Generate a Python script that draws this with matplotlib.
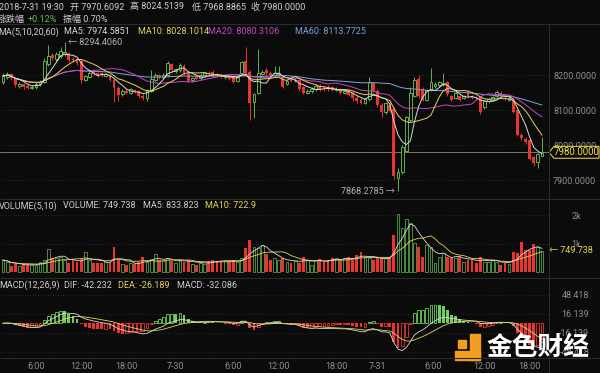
import numpy as np
import pandas as pd
import matplotlib
matplotlib.use('Agg')
import matplotlib.pyplot as plt
from matplotlib.patches import Polygon, Rectangle
from matplotlib.transforms import blended_transform_factory

plt.rcParams['font.family'] = ['Roboto', 'Noto Sans CJK SC', 'DejaVu Sans']

# 30 min candles, 7-29 ~02:00 -> 7-31 19:30
opens = [8180, 8196, 8204, 8190, 8170, 8176, 8170, 8164, 8166, 8174,
         8182, 8232, 8258, 8248, 8256, 8262, 8264, 8248, 8246, 8240,
         8188, 8196, 8212, 8206, 8206, 8198, 8200, 8188, 8165, 8146,
         8156, 8150, 8158, 8155, 8142, 8134, 8156, 8188, 8200, 8194,
         8200, 8232, 8212, 8214, 8228, 8206, 8186, 8194, 8192, 8200,
         8208, 8210, 8204, 8200, 8194, 8196, 8192, 8184, 8208, 8240,
         8210, 8125, 8150, 8204, 8216, 8208, 8200, 8204, 8196, 8176,
         8190, 8186, 8186, 8166, 8150, 8154, 8160, 8170, 8166, 8168,
         8166, 8158, 8160, 8150, 8158, 8150, 8136, 8130, 8122, 8132,
         8178, 8156, 8116, 8096, 8116, 8104, 7908, 7925, 7985, 8072,
         8142, 8190, 8160, 8130, 8158, 8170, 8172, 8174, 8180, 8140,
         8136, 8140, 8136, 8152, 8140, 8136, 8134, 8110, 8126, 8130,
         8140, 8150, 8136, 8130, 8130, 8100, 8030, 8018, 8015, 7966,
         7952, 7970.6092]
highs = [8206, 8210, 8208, 8196, 8181, 8179, 8174, 8172, 8180, 8186,
         8250, 8286, 8263, 8268, 8280, 8294.406, 8268, 8253, 8250, 8248,
         8202, 8212, 8218, 8210, 8210, 8208, 8204, 8192, 8170, 8162,
         8160, 8164, 8162, 8158, 8146, 8162, 8215, 8206, 8205, 8206,
         8240, 8236, 8222, 8234, 8232, 8210, 8196, 8198, 8206, 8210,
         8212, 8214, 8208, 8204, 8202, 8200, 8196, 8198, 8242, 8282,
         8214, 8150, 8276, 8214, 8220, 8212, 8228, 8226, 8200, 8188,
         8194, 8192, 8190, 8170, 8160, 8166, 8174, 8174, 8170, 8172,
         8170, 8166, 8164, 8160, 8162, 8152, 8140, 8134, 8136, 8195,
         8182, 8160, 8120, 8124, 8124, 8110, 7935, 8000, 8085, 8168,
         8194, 8200, 8166, 8162, 8222, 8180, 8184, 8208, 8184, 8144,
         8154, 8144, 8144, 8158, 8144, 8140, 8138, 8130, 8136, 8142,
         8158, 8154, 8140, 8140, 8134, 8104, 8036, 8024, 8020, 7970,
         7978, 8024.5139]
lows = [8174, 8190, 8186, 8166, 8164, 8162, 8160, 8160, 8162, 8170,
        8178, 8226, 8244, 8242, 8250, 8255, 8238, 8238, 8230, 8178,
        8184, 8192, 8200, 8196, 8196, 8195, 8184, 8125, 8128, 8140,
        8146, 8146, 8150, 8136, 8130, 8126, 8152, 8184, 8190, 8190,
        8196, 8210, 8208, 8210, 8202, 8180, 8182, 8186, 8188, 8196,
        8200, 8196, 8194, 8192, 8190, 8186, 8178, 8180, 8204, 8200,
        8072, 8078, 8146, 8200, 8200, 8196, 8196, 8200, 8164, 8172,
        8180, 8182, 8156, 8146, 8146, 8150, 8156, 8156, 8156, 8156,
        8154, 8154, 8146, 8146, 8140, 8126, 8120, 8118, 8118, 8128,
        8152, 8110, 8080, 8090, 8094, 7905, 7868.2785, 7918, 7980, 8066,
        8138, 8136, 8126, 8126, 8154, 8164, 8168, 8170, 8142, 8126,
        8132, 8126, 8132, 8136, 8132, 8130, 8090, 8104, 8122, 8126,
        8136, 8136, 8130, 8126, 8092, 8026, 8014, 8004, 7958, 7940,
        7935, 7968.8865]
closes = [8198, 8203, 8192, 8172, 8176, 8168, 8165, 8168, 8176, 8181,
          8240, 8256, 8249, 8262, 8270, 8267, 8244, 8243, 8236, 8186,
          8198, 8208, 8204, 8200, 8200, 8204, 8188, 8165, 8145, 8156,
          8150, 8160, 8154, 8140, 8136, 8158, 8190, 8200, 8194, 8202,
          8236, 8214, 8218, 8230, 8206, 8183, 8192, 8190, 8202, 8206,
          8204, 8200, 8198, 8196, 8198, 8190, 8182, 8196, 8238, 8206,
          8120, 8148, 8206, 8210, 8206, 8200, 8206, 8208, 8168, 8184,
          8184, 8188, 8160, 8150, 8156, 8162, 8170, 8160, 8160, 8160,
          8158, 8162, 8150, 8156, 8144, 8134, 8126, 8122, 8132, 8180,
          8156, 8116, 8094, 8122, 8098, 7912, 7925, 7995, 8080, 8150,
          8188, 8140, 8130, 8158, 8180, 8175, 8180, 8178, 8146, 8130,
          8150, 8130, 8140, 8140, 8136, 8134, 8096, 8128, 8132, 8138,
          8152, 8140, 8134, 8136, 8096, 8030, 8020, 8010, 7962, 7950,
          7975, 7980.0]
volumes = [424, 365, 212, 271, 212, 283, 271, 247, 247, 365,
           424, 830, 482, 506, 541, 424, 306, 424, 341, 447,
           718, 424, 330, 330, 306, 365, 365, 871, 424, 271,
           247, 306, 283, 365, 518, 365, 450, 620, 420, 380,
           480, 380, 330, 420, 370, 420, 300, 260, 330, 300,
           400, 420, 400, 400, 380, 400, 420, 360, 480, 840,
           1130, 900, 860, 950, 620, 430, 480, 420, 480, 360,
           320, 400, 330, 541, 424, 247, 424, 459, 365, 424,
           482, 482, 424, 506, 541, 424, 600, 718, 506, 482,
           424, 482, 506, 482, 541, 1306, 2036, 1541, 1871, 1718,
           1012, 894, 541, 953, 894, 306, 541, 659, 541, 482,
           506, 541, 365, 424, 424, 306, 541, 365, 365, 424,
           365, 247, 320, 280, 717, 680, 1048, 776, 790, 988,
           870, 749.738]

tick_idx = [8, 19, 30, 42, 56, 67, 81, 91, 104.5, 117, 128]
tick_labels = ['6:00', '12:00', '18:00', '7-30', '6:00', '12:00',
               '18:00', '7-31', '6:00', '12:00', '18:00']
price_ticks = [8200, 8100, 8000, 7900]
vol_ticks = [2000, 1000]
vol_tick_labels = ['2k', '1k']
macd_ticks = [48.418, 16.139, -16.139, -48.418]

BG = '#0b0b0b'
RED = '#e8352f'
GREEN = '#63b04f'
VGREEN = '#4f8a3f'
MGREEN = '#6ccf5a'
GRID = '#303030'
SEP = '#2a2a2a'
TXT = '#cfcfcf'
AXTXT = '#8f8f8f'
WHITE_L = '#d9d9d9'
YEL = '#e6d35a'
MAG = '#c247c4'
BLUE = '#7ea3d6'

W, H = 600, 373


def box(l, t, r, b):
    return [l / W, 1 - b / H, (r - l) / W, (b - t) / H]


o = np.array(opens, float)
h = np.array(highs, float)
lo = np.array(lows, float)
c = np.array(closes, float)
v = np.array(volumes, float)
n = len(c)
x = np.arange(n)
up = c >= o

fig = plt.figure(figsize=(6, 3.73), dpi=100, facecolor=BG)
ax_p = fig.add_axes(box(0, 24, 549, 199))
ax_v = fig.add_axes(box(0, 199, 549, 278))
ax_m = fig.add_axes(box(0, 278, 549, 358))

for ax in (ax_p, ax_v, ax_m):
    ax.set_facecolor(BG)
    for s in ax.spines.values():
        s.set_visible(False)
    ax.set_xlim(-0.73, 132.7)
    ax.yaxis.tick_right()
    ax.tick_params(axis='y', length=0, labelsize=6.5, labelcolor=AXTXT)
    ax.tick_params(axis='x', length=0, labelsize=6.5, labelcolor=AXTXT)

# ---- price panel
ax_p.set_ylim(7846.6, 8346.6)
for pv in price_ticks:
    ax_p.axhline(pv, color=GRID, ls=(0, (1, 2)), lw=0.6, zorder=0)
cols = np.where(up, GREEN, RED)
ax_p.vlines(x, lo, h, colors=cols, lw=0.7, zorder=2)
body = np.maximum(np.abs(c - o), 1.2)
bot = np.minimum(o, c)
ax_p.bar(x[up], body[up], bottom=bot[up], width=0.68, facecolor=BG,
         edgecolor=GREEN, linewidth=0.7, zorder=3)
ax_p.bar(x[~up], body[~up], bottom=bot[~up], width=0.68, color=RED,
         linewidth=0, zorder=3)

s = pd.Series(c)
for k, col in [(60, BLUE), (20, MAG), (10, YEL), (5, WHITE_L)]:
    ax_p.plot(x, s.rolling(k, min_periods=1).mean(), color=col, lw=0.7, zorder=4)

ax_p.set_yticks(price_ticks, [f'{pv:.4f}' for pv in price_ticks])
ax_p.tick_params(axis='y', pad=3)
ax_p.set_xticks([])

last = c[-1]
ax_p.axhline(last, color='#8e8c70', lw=0.6, zorder=1)
tr = blended_transform_factory(ax_p.transAxes, ax_p.transData)
ax_p.add_patch(Polygon([(1.0, last), (554 / 549, last + 17), (599 / 549, last + 17),
                        (599 / 549, last - 17), (554 / 549, last - 17)],
                       closed=True, facecolor=BG, edgecolor='#d9c94a', lw=0.8,
                       transform=tr, clip_on=False, zorder=6))
ax_p.text(576.5 / 549, last, f'{last:.4f}', transform=tr, ha='center', va='center',
          color='#f2e14c', fontsize=7, clip_on=False, zorder=7)

ih = int(np.argmax(h))
il = int(np.argmin(lo))
ax_p.text(ih + 0.8, h[ih], f'← {h[ih]:.4f}', ha='left', va='center',
          color='#b5b5b5', fontsize=6.5)
ax_p.text(il - 0.7, lo[il], f'{lo[il]:.4f} →', ha='right', va='center',
          color='#b5b5b5', fontsize=6.5)

# ---- volume panel
ax_v.set_ylim(-212, 2580)
for vv in vol_ticks:
    ax_v.axhline(vv, color=GRID, ls=(0, (1, 2)), lw=0.6, zorder=0)
ax_v.bar(x[up], v[up], width=0.68, facecolor=BG, edgecolor=VGREEN, linewidth=0.7, zorder=2)
ax_v.bar(x[~up], v[~up], width=0.68, color=RED, linewidth=0, zorder=2)
sv = pd.Series(v)
ax_v.plot(x, sv.rolling(10, min_periods=1).mean(), color=YEL, lw=0.6, zorder=3)
ax_v.plot(x, sv.rolling(5, min_periods=1).mean(), color=WHITE_L, lw=0.6, zorder=3)
ax_v.set_yticks(vol_ticks, vol_tick_labels)
ax_v.tick_params(axis='y', pad=16)
ax_v.set_xticks([])
trv = blended_transform_factory(ax_v.transAxes, ax_v.transData)
ax_v.text(1.0, v[-1], f'← {v[-1]:.3f}', transform=trv, ha='left', va='center',
          color='#e8d84a', fontsize=6.5, clip_on=False)

# ---- MACD panel
ema12 = s.ewm(span=12, adjust=False).mean()
ema26 = s.ewm(span=26, adjust=False).mean()
dif = ema12 - ema26
dea = dif.ewm(span=9, adjust=False).mean()
hist = (2 * (dif - dea)).to_numpy()
prev = np.concatenate([[0], hist[:-1]])
pos = hist >= 0
hollow = np.where(pos, hist >= prev, hist >= prev)
ax_m.set_ylim(-59.1, 76.8)
for mv in macd_ticks:
    ax_m.axhline(mv, color=GRID, ls=(0, (1, 2)), lw=0.6, zorder=0)
for sel, col in [(pos, MGREEN), (~pos, RED)]:
    hs = sel & hollow
    fs = sel & ~hollow
    ax_m.bar(x[hs], hist[hs], width=0.68, facecolor=BG, edgecolor=col, linewidth=0.6, zorder=2)
    ax_m.bar(x[fs], hist[fs], width=0.68, color=col, linewidth=0, zorder=2)
ax_m.plot(x, dif, color=WHITE_L, lw=0.6, zorder=3)
ax_m.plot(x, dea, color=YEL, lw=0.6, zorder=3)
ax_m.set_yticks(macd_ticks, [f'{mv:.3f}' for mv in macd_ticks])
ax_m.tick_params(axis='y', pad=29)
for lab in ax_m.get_yticklabels():
    lab.set_horizontalalignment('right')
ax_m.set_xticks(tick_idx, tick_labels)
ax_m.tick_params(axis='x', pad=3)

# ---- overlay: headers, separators, watermark
ov = fig.add_axes([0, 0, 1, 1], zorder=10)
ov.set_xlim(0, W)
ov.set_ylim(H, 0)
ov.axis('off')
ov.patch.set_alpha(0)

ov.hlines([24, 199, 278, 358], 0, W, color=SEP, lw=0.8)
ov.vlines(549, 24, H, color=SEP, lw=0.8)


def seg(px, py, txt, col=TXT, **kw):
    ov.text(px, py, txt, color=col, fontsize=6.5, ha='left', va='center', **kw)


seg(-1, 7, '2018-7-31 19:30')
seg(70, 7, '开 7970.6092')
seg(130, 7, '高 8024.5139')
seg(192, 7, '低 7968.8865')
seg(251, 7, '收 7980.0000')
seg(-2, 19, '涨跌幅')
seg(28, 19, '+0.12%', '#5fbf4f')
seg(63, 19, '振幅 0.70%')
seg(-2, 32, 'MA(5,10,20,60)')
seg(64, 32, 'MA5: 7974.5851', WHITE_L)
seg(138, 32, 'MA10: 8028.1014', YEL)
seg(208, 32, 'MA20: 8080.3106', MAG)
seg(295, 32, 'MA60: 8113.7725', BLUE)
seg(-1, 206, 'VOLUME(5,10)')
seg(63, 206, 'VOLUME: 749.738')
seg(143, 206, 'MA5: 833.823')
seg(205, 206, 'MA10: 722.9', YEL)
seg(-1, 285, 'MACD(12,26,9)')
seg(64, 285, 'DIF: -42.232')
seg(118, 285, 'DEA: -26.189', YEL)
seg(177, 285, 'MACD: -32.086')

ORANGE = '#f0a01e'
ov.add_patch(Rectangle((470, 334), 10, 26, color=ORANGE))
ov.add_patch(Rectangle((455, 351), 25, 9, color=ORANGE))
ov.add_patch(Rectangle((458, 340), 8, 8, color=ORANGE))
ov.text(487, 347, '金色财经', color='white', fontsize=18.5, fontweight='bold',
        ha='left', va='center', family=['Noto Sans CJK SC', 'DejaVu Sans'])

fig.savefig('out.png', dpi=100, facecolor=BG)
